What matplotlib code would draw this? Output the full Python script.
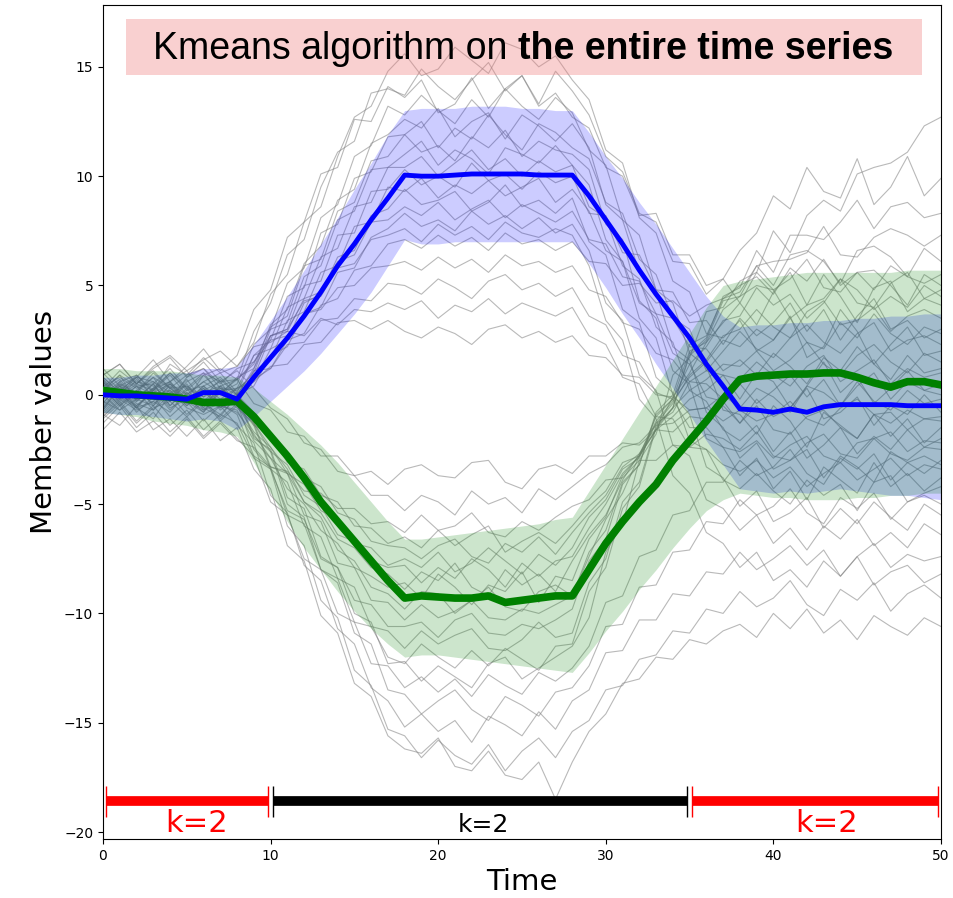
import matplotlib
matplotlib.use("Agg")
import matplotlib.pyplot as plt
from matplotlib.patches import Rectangle
import numpy as np

time = np.arange(51)

# Members of the cluster that rises in the middle section
upper_members = [
    [0.3, 1.1, 0.5, 0.2, 1.4, 0.9, 1.7, 1.0, 1.3, 2.4, 4.6, 5.5, 7.9, 8.6, 10.9, 12.7, 13.2, 14.8, 15.6, 14.6, 14.9, 15.9, 15.3, 14.7, 16.1, 15.8, 15.0, 15.5, 14.4, 13.5, 11.2, 10.6, 8.1, 7.4, 5.2, 4.7, 2.8, 2.6, 3.4, 2.0, 2.5, 3.6, 1.7, 2.2, 3.9, 2.9, 1.4, 2.3, 3.1, 1.8, 2.0],
    [-0.4, 0.5, 0.1, 1.0, 0.3, -0.2, 0.9, 1.2, 0.7, 2.9, 4.2, 6.4, 7.1, 9.5, 11.1, 11.6, 13.8, 14.0, 13.7, 14.9, 14.1, 13.5, 14.4, 15.2, 13.9, 14.6, 13.3, 14.8, 13.9, 12.8, 10.9, 10.2, 8.3, 7.9, 6.1, 6.0, 4.6, 5.3, 6.6, 7.4, 9.1, 8.5, 10.4, 9.3, 9.0, 10.8, 8.7, 9.5, 10.9, 9.1, 9.9],
    [1.2, 0.4, 0.8, 1.6, 0.6, 1.3, 2.1, 1.1, 1.8, 3.9, 4.8, 7.2, 7.9, 10.1, 10.4, 12.6, 12.5, 14.1, 13.6, 14.4, 12.9, 13.3, 14.5, 13.1, 14.0, 14.6, 13.2, 13.8, 12.7, 12.2, 10.4, 10.0, 8.2, 8.3, 6.4, 6.4, 5.0, 5.3, 4.2, 5.6, 4.8, 3.5, 4.1, 5.5, 4.5, 3.3, 4.9, 5.2, 3.8, 4.4, 4.1],
    [-0.7, 0.4, -0.1, 0.2, 0.9, 0.0, 0.6, 0.1, 0.5, 2.3, 3.0, 5.1, 5.8, 8.1, 8.7, 10.9, 11.4, 13.2, 12.8, 13.7, 13.0, 12.4, 13.5, 12.7, 14.0, 13.2, 12.6, 13.6, 12.9, 11.2, 10.5, 8.0, 7.3, 4.8, 4.2, 1.9, 1.3, -0.7, -0.9, -1.8, -0.5, -1.2, -2.4, -0.8, -1.4, -2.0, -0.9, -1.9, -1.1, -2.2, -1.5],
    [0.6, -0.4, 0.2, 0.8, -0.3, 0.5, -0.6, 0.4, 0.0, 1.2, 3.2, 3.9, 6.0, 6.8, 8.9, 9.4, 11.5, 11.9, 12.6, 12.2, 13.1, 11.8, 12.5, 12.9, 11.7, 12.8, 12.3, 11.6, 12.4, 11.3, 8.7, 8.0, 5.6, 4.7, 2.2, 1.6, -0.8, -1.5, -2.9, -2.2, -3.4, -3.0, -2.5, -3.8, -2.8, -3.3, -4.0, -2.6, -3.1, -3.6, -3.0],
    [-0.9, -0.1, -0.6, -1.1, 0.0, -0.3, -0.8, 0.2, 0.3, 1.8, 2.5, 4.5, 4.9, 7.4, 7.8, 9.9, 10.2, 11.8, 11.9, 12.5, 11.3, 12.2, 11.7, 12.8, 11.9, 11.2, 12.4, 12.0, 11.3, 10.8, 8.8, 8.3, 6.2, 5.5, 3.5, 3.0, 1.1, 0.9, -0.2, 1.0, 0.6, -0.6, 0.4, 1.5, 0.1, 0.8, -0.4, 0.3, 1.1, 0.2, 0.5],
    [0.2, 0.9, -0.3, 0.3, 0.6, 1.1, 0.1, 0.4, 0.7, 1.4, 3.1, 3.6, 5.9, 6.2, 8.4, 8.8, 10.7, 10.9, 11.9, 11.1, 11.4, 10.7, 11.8, 11.3, 12.1, 10.9, 11.6, 11.2, 11.0, 10.3, 7.8, 7.1, 4.3, 3.5, 1.1, 0.5, -2.0, -2.4, -3.7, -2.9, -4.3, -3.5, -4.8, -3.3, -3.9, -4.5, -3.1, -4.2, -3.6, -4.4, -3.8],
    [-0.4, 0.6, 0.9, 0.1, -0.3, 0.8, 1.2, 0.3, 0.2, 1.0, 3.0, 3.3, 5.4, 5.9, 8.0, 8.4, 10.3, 10.4, 11.0, 11.6, 10.5, 11.2, 10.8, 10.1, 11.3, 11.0, 10.6, 11.4, 10.5, 9.6, 7.1, 6.1, 3.5, 2.6, 0.0, -0.9, -3.3, -3.8, -5.1, -4.4, -5.8, -5.4, -4.7, -6.1, -5.2, -5.9, -4.9, -5.6, -6.2, -5.0, -5.5],
    [0.7, -0.2, 0.4, -0.5, 0.5, 0.0, 0.6, 1.0, 0.1, 1.8, 2.1, 4.0, 4.4, 6.3, 6.7, 8.6, 8.8, 10.4, 10.4, 10.9, 10.0, 10.6, 11.2, 10.3, 10.8, 10.0, 10.7, 10.2, 10.5, 8.6, 8.1, 5.9, 5.3, 3.1, 2.4, 0.2, -0.3, -1.6, -2.1, -1.4, -2.6, -1.7, -2.9, -2.3, -1.5, -2.7, -1.9, -2.5, -1.6, -2.4, -2.0],
    [-0.6, 0.3, -0.2, 0.5, -0.5, 0.2, 0.4, -0.4, 0.3, 0.8, 2.7, 3.0, 5.0, 5.2, 7.3, 7.4, 9.3, 9.4, 10.3, 9.6, 10.0, 9.5, 10.6, 9.8, 10.1, 9.4, 10.2, 9.7, 10.0, 8.3, 8.2, 6.5, 6.4, 4.8, 4.7, 3.3, 3.4, 2.3, 3.5, 2.7, 3.3, 4.2, 2.9, 3.9, 2.5, 3.6, 4.4, 3.0, 3.4, 2.6, 3.0],
    [0.3, -0.5, 0.1, 0.8, 0.3, -0.4, 0.2, 0.6, -0.5, 1.1, 1.6, 3.4, 3.8, 5.6, 5.9, 7.7, 7.9, 9.5, 9.3, 9.9, 9.0, 9.6, 9.2, 9.8, 9.1, 9.5, 9.9, 8.8, 9.4, 8.4, 6.6, 6.1, 4.2, 3.7, 1.9, 1.4, -0.1, -0.3, -1.3, -0.2, -1.0, -0.6, 0.3, -1.1, -0.8, -0.1, -1.4, -0.5, -0.9, 0.0, -0.8],
    [-0.1, 0.5, -0.4, -0.7, 0.3, 0.4, -0.3, 0.1, -0.1, 0.6, 2.1, 2.5, 4.2, 4.6, 6.3, 6.6, 8.2, 8.5, 9.4, 8.7, 8.9, 9.3, 8.4, 8.8, 9.6, 8.6, 8.9, 8.3, 9.0, 7.0, 6.4, 3.9, 3.3, 0.8, 0.1, -2.1, -2.5, -3.9, -4.3, -3.6, -4.4, -5.0, -3.9, -4.6, -4.1, -5.3, -4.0, -3.7, -4.9, -4.5, -4.2],
    [0.8, 0.1, 0.6, 0.4, -0.3, 0.6, 1.0, 0.0, 0.8, 1.2, 2.7, 2.9, 4.4, 4.7, 6.1, 6.4, 7.9, 8.0, 8.6, 8.2, 8.8, 8.0, 8.5, 8.9, 8.1, 8.7, 8.3, 7.9, 8.4, 7.1, 6.9, 5.4, 5.2, 3.7, 3.5, 2.2, 2.1, 1.1, 1.6, 0.9, 1.9, 1.3, 0.5, 1.7, 1.1, 2.2, 1.4, 0.7, 1.8, 1.0, 1.2],
    [-1.0, -0.2, -0.7, -0.3, -0.8, 0.1, -0.6, -1.0, 0.0, 0.4, 1.8, 2.2, 3.7, 4.0, 5.6, 5.8, 7.2, 7.6, 8.3, 7.7, 8.0, 7.5, 8.4, 7.8, 8.2, 7.6, 8.1, 7.4, 7.8, 6.6, 4.2, 3.4, 0.9, 0.2, -2.3, -2.8, -4.8, -5.2, -6.2, -5.5, -6.8, -6.1, -7.1, -6.0, -6.6, -5.7, -6.9, -6.3, -7.0, -5.9, -6.4],
    [0.2, 0.9, 0.4, 0.5, 1.2, 0.3, 1.0, 0.6, 0.7, 1.5, 2.7, 3.0, 4.3, 4.5, 5.8, 6.0, 7.1, 7.3, 7.6, 7.0, 7.8, 7.3, 7.7, 7.1, 7.9, 7.4, 7.2, 7.6, 7.3, 5.9, 3.4, 2.5, -0.2, -1.1, -3.7, -4.5, -6.3, -6.8, -7.9, -7.2, -8.5, -8.0, -8.8, -7.6, -8.3, -7.4, -8.7, -8.1, -7.8, -8.6, -8.2],
    [0.0, -0.7, 0.2, -0.4, 0.1, -0.1, -0.8, 0.3, -0.3, 0.7, 1.2, 2.5, 2.8, 4.1, 4.4, 5.7, 5.9, 6.9, 7.1, 6.7, 7.3, 6.8, 7.2, 6.6, 7.4, 6.9, 7.1, 6.6, 7.0, 6.1, 6.0, 5.0, 5.1, 4.2, 4.3, 3.6, 4.1, 4.4, 5.0, 5.4, 4.6, 5.8, 5.2, 6.2, 5.0, 5.6, 4.8, 5.9, 5.4, 5.1, 5.5],
    [0.6, -0.1, 0.5, 1.1, 0.3, 0.9, 1.2, 0.5, 1.2, 1.5, 2.5, 2.7, 3.7, 3.9, 4.9, 5.0, 5.8, 5.9, 6.1, 5.7, 6.3, 5.8, 6.2, 5.6, 6.4, 5.9, 6.1, 5.6, 5.9, 4.8, 4.5, 3.3, 3.0, 1.9, 1.6, 0.6, 0.5, -0.2, 0.5, -0.4, 0.2, 0.9, -0.1, 0.7, -0.5, 0.4, 1.0, -0.2, 0.6, 0.2, 0.0],
    [-0.2, 0.4, -0.5, 0.2, 0.6, -0.3, 0.4, 0.8, 0.0, 1.1, 1.2, 2.3, 2.4, 3.4, 3.5, 4.4, 4.3, 5.1, 5.0, 4.6, 5.3, 4.9, 4.4, 5.2, 5.5, 4.8, 5.1, 4.5, 4.9, 3.6, 3.2, 1.8, 1.5, 0.1, -0.2, -1.5, -1.5, -2.4, -2.6, -2.1, -2.9, -2.3, -1.9, -2.8, -3.1, -2.2, -2.0, -2.7, -3.0, -2.4, -2.5],
    [0.9, 1.4, 0.5, 1.3, 1.8, 1.1, 1.6, 2.0, 1.3, 2.2, 2.4, 2.9, 2.7, 3.5, 3.2, 3.9, 3.8, 4.2, 3.9, 4.3, 3.5, 4.1, 3.8, 4.4, 3.7, 4.2, 3.9, 3.6, 4.0, 2.7, 2.3, 0.8, 0.5, -1.0, -1.1, -2.4, -2.5, -3.2, -3.5, -3.0, -3.8, -3.3, -4.2, -3.6, -3.1, -3.9, -3.4, -2.9, -3.7, -3.2, -3.4],
    [-0.8, 0.0, -0.5, 0.1, 0.5, -0.3, 0.4, -0.2, 0.3, 0.6, 1.3, 1.4, 2.3, 2.4, 3.3, 3.4, 3.0, 3.4, 2.9, 2.6, 3.1, 2.8, 2.3, 3.0, 3.2, 2.6, 2.9, 2.4, 2.7, 1.8, 1.7, 0.9, 0.8, 0.0, -0.1, -0.7, -0.6, -1.2, -0.7, -1.2, -0.9, -0.3, -1.1, -1.4, -0.6, -0.2, -0.9, -1.3, -0.7, -1.1, -1.0],
]

# Members of the cluster that falls in the middle section
lower_members = [
    [-0.9, -1.4, -0.5, -1.6, -1.1, -1.9, -1.1, -2.1, -1.5, -3.4, -4.3, -6.9, -7.6, -10.1, -10.9, -13.2, -13.8, -15.6, -16.2, -16.4, -15.7, -17.0, -17.2, -16.3, -17.4, -17.6, -16.8, -18.5, -16.8, -15.4, -14.6, -13.2, -13.0, -12.0, -12.1, -11.2, -11.4, -10.8, -10.5, -11.1, -10.0, -10.7, -9.8, -10.9, -10.3, -11.2, -10.1, -10.6, -11.0, -10.2, -10.6],
    [0.3, -0.5, 0.2, -0.7, 0.0, -0.9, -0.2, -1.1, -0.4, -2.5, -3.4, -6.0, -6.9, -9.4, -10.2, -12.6, -13.3, -15.3, -15.6, -16.6, -15.8, -16.5, -16.9, -16.0, -17.2, -16.3, -15.7, -16.6, -15.4, -14.9, -13.5, -13.3, -12.1, -11.9, -10.8, -10.9, -9.8, -10.0, -9.0, -9.7, -9.3, -8.5, -9.6, -10.1, -8.9, -9.4, -8.6, -9.9, -9.1, -8.7, -9.3],
    [-0.6, 0.2, -0.8, -0.1, -1.0, -0.3, -1.2, -0.5, -1.4, -2.2, -4.6, -5.4, -7.8, -8.5, -10.7, -11.4, -13.4, -14.0, -15.2, -14.6, -15.4, -14.9, -15.9, -14.7, -15.1, -15.6, -14.5, -15.3, -14.0, -13.5, -11.8, -11.7, -10.3, -10.3, -9.1, -9.2, -8.1, -8.2, -7.2, -8.0, -7.5, -6.9, -7.8, -7.1, -8.3, -7.4, -6.8, -7.9, -7.3, -7.6, -7.4],
    [0.7, 0.0, 0.8, -0.1, 0.5, -0.4, 0.3, -0.6, 0.0, -1.9, -2.6, -5.0, -5.6, -8.0, -8.6, -10.9, -11.4, -13.5, -13.7, -14.6, -14.0, -13.5, -14.4, -14.9, -13.8, -14.2, -14.7, -13.6, -13.4, -12.4, -10.6, -10.5, -8.8, -8.7, -7.2, -7.1, -5.8, -5.9, -4.8, -5.5, -5.1, -4.3, -5.4, -5.9, -4.7, -5.2, -4.5, -5.7, -4.9, -4.6, -5.0],
    [-1.3, -0.5, -1.5, -0.8, -1.7, -1.0, -1.9, -1.2, -2.0, -2.8, -4.9, -5.5, -7.5, -8.0, -10.0, -10.4, -12.3, -12.4, -13.4, -12.9, -13.6, -13.0, -13.8, -12.8, -13.3, -13.7, -12.7, -13.1, -12.5, -11.5, -9.5, -9.2, -7.4, -7.1, -5.5, -5.3, -4.0, -4.0, -3.0, -3.7, -3.3, -2.5, -3.6, -4.1, -2.9, -3.4, -2.7, -3.9, -3.1, -2.8, -3.2],
    [0.5, -0.3, 0.4, 0.0, 0.2, -0.5, 0.2, -0.7, -0.1, -2.0, -2.5, -4.7, -5.2, -7.4, -7.9, -10.0, -10.4, -12.3, -12.2, -13.1, -12.4, -12.9, -13.4, -12.3, -12.0, -13.0, -12.5, -12.0, -11.5, -10.2, -7.2, -5.9, -3.0, -1.8, 0.9, 1.7, 3.8, 4.0, 5.2, 5.6, 7.5, 6.5, 8.2, 8.9, 8.4, 10.1, 10.4, 10.6, 11.1, 12.3, 12.7],
    [-0.2, 0.4, -0.6, 0.3, -0.6, -0.2, -0.7, -0.4, -0.9, -2.8, -3.3, -5.5, -5.9, -8.0, -8.4, -10.4, -10.6, -12.0, -12.3, -11.4, -12.0, -12.5, -11.7, -12.4, -11.6, -12.1, -12.6, -11.5, -11.4, -9.0, -7.9, -5.2, -4.2, -1.5, -0.6, 1.9, 2.6, 4.5, 4.9, 6.6, 5.6, 7.3, 7.3, 7.1, 7.9, 8.9, 7.6, 8.6, 8.8, 8.1, 8.3],
    [1.0, 0.2, 0.8, 0.6, -0.1, 0.7, -0.3, 0.4, -0.5, -1.4, -3.4, -4.0, -6.0, -6.5, -8.4, -8.8, -10.6, -10.8, -11.6, -10.8, -11.4, -11.0, -10.7, -11.6, -11.7, -11.2, -10.4, -11.1, -10.9, -8.6, -7.5, -4.9, -4.0, -1.4, -0.6, 1.8, 2.5, 4.3, 4.5, 5.9, 6.1, 6.2, 6.5, 7.7, 6.4, 6.3, 7.2, 7.6, 7.3, 6.8, 7.3],
    [-1.0, -0.3, -1.2, -0.5, -1.4, -0.7, -1.6, -0.9, -1.3, -2.9, -3.4, -5.3, -5.7, -7.5, -7.9, -9.4, -9.6, -10.6, -10.6, -10.4, -11.1, -10.3, -10.0, -10.9, -11.0, -10.5, -10.7, -10.3, -9.8, -7.6, -6.6, -4.1, -3.2, -0.8, 0.0, 2.3, 2.7, 4.4, 4.7, 5.9, 5.0, 6.4, 6.6, 6.1, 5.1, 6.6, 6.8, 6.3, 5.4, 6.7, 6.1],
    [0.2, 0.7, -0.2, 0.5, -0.5, 0.3, -0.7, 0.1, -0.6, -1.3, -3.3, -3.6, -5.5, -5.8, -7.7, -7.9, -9.4, -9.5, -10.3, -9.6, -10.2, -9.9, -9.4, -10.2, -10.3, -9.8, -10.0, -9.6, -9.2, -7.2, -6.2, -4.0, -3.2, -0.9, -0.2, 2.0, 2.4, 3.9, 4.5, 5.0, 4.8, 5.3, 6.2, 4.9, 4.7, 5.6, 5.7, 5.0, 4.1, 5.5, 5.0],
    [-0.7, 0.1, -0.6, -0.3, 0.4, -0.5, 0.2, -0.6, 0.1, -1.3, -2.4, -3.4, -4.9, -5.6, -7.1, -7.6, -8.8, -9.1, -9.8, -9.0, -9.1, -10.0, -9.4, -8.8, -9.7, -9.9, -9.0, -8.7, -9.2, -7.4, -5.7, -4.5, -2.8, -1.6, -0.1, 1.0, 2.4, 3.3, 4.2, 3.2, 4.7, 5.6, 4.1, 4.4, 5.3, 4.2, 4.0, 5.1, 5.6, 4.4, 4.8],
    [0.6, -0.2, 0.7, -0.1, 0.6, -0.2, 0.3, -0.5, -0.7, -2.1, -2.9, -4.3, -5.0, -6.2, -6.8, -7.9, -8.3, -8.8, -8.6, -9.3, -8.2, -8.8, -9.6, -8.7, -9.0, -8.1, -9.5, -8.3, -8.5, -6.6, -5.6, -3.7, -2.8, -1.0, -0.2, 1.4, 2.2, 3.4, 3.6, 4.9, 4.1, 4.6, 3.5, 4.2, 5.3, 4.8, 3.9, 4.5, 4.0, 5.0, 4.5],
    [-0.3, -0.7, -0.2, -0.5, 0.2, -0.6, -0.9, -0.5, -0.8, -1.8, -2.9, -3.6, -4.9, -5.4, -6.6, -7.0, -7.9, -8.2, -8.9, -8.1, -8.5, -7.7, -8.8, -9.2, -8.0, -8.7, -8.2, -9.0, -7.6, -6.4, -5.5, -3.9, -2.7, -1.3, -0.4, 0.9, 1.6, 2.7, 3.0, 3.9, 3.1, 2.6, 3.8, 4.3, 3.2, 3.4, 4.0, 2.9, 3.6, 3.9, 3.5],
    [0.4, 0.8, 0.3, 0.6, 0.1, 0.4, -0.1, 0.3, -0.2, -1.3, -2.6, -3.2, -4.6, -5.1, -6.4, -6.7, -7.6, -7.9, -7.8, -8.6, -7.9, -8.4, -7.5, -8.0, -8.8, -7.7, -8.3, -7.6, -7.4, -6.1, -5.0, -3.6, -2.8, -1.2, -0.3, 0.8, 1.5, 2.5, 2.2, 3.0, 2.5, 3.5, 2.4, 2.1, 3.3, 2.6, 3.7, 2.8, 2.3, 3.1, 2.8],
    [-1.1, -0.4, -1.3, -0.6, -0.3, -1.0, -0.3, -1.2, -0.5, -1.7, -2.4, -3.6, -4.1, -5.3, -5.7, -6.8, -7.0, -7.8, -7.5, -7.9, -7.2, -8.1, -7.7, -7.0, -7.6, -8.2, -7.3, -7.8, -7.0, -5.6, -4.8, -3.4, -2.9, -1.3, -0.8, 0.6, 1.1, 2.0, 2.9, 2.1, 1.7, 2.6, 3.2, 2.4, 1.9, 2.8, 3.3, 2.0, 2.5, 2.7, 2.3],
    [0.8, 0.1, 0.9, 0.2, 1.0, 0.3, -0.1, 0.7, 0.0, -0.8, -2.1, -2.6, -3.8, -4.2, -5.4, -5.7, -6.7, -6.9, -7.0, -7.5, -6.9, -6.6, -7.4, -7.7, -6.8, -7.2, -6.5, -7.3, -6.3, -5.4, -4.6, -3.3, -2.7, -1.6, -0.6, 0.2, 0.7, 1.4, 1.3, 2.0, 1.1, 1.6, 2.4, 1.4, 0.9, 1.8, 2.3, 1.5, 1.0, 1.9, 1.5],
    [-0.5, 0.3, -0.6, 0.2, -0.7, 0.1, -0.4, -0.9, -0.1, -1.4, -1.8, -3.1, -3.4, -4.6, -4.9, -6.0, -6.1, -6.8, -6.5, -7.0, -6.2, -6.9, -6.4, -6.0, -7.2, -6.7, -6.3, -6.8, -6.0, -5.1, -4.4, -3.1, -2.8, -1.6, -1.0, -0.2, 0.2, 0.9, 0.7, 1.5, 0.9, 0.4, 1.3, 1.8, 0.6, 1.1, 1.6, 0.5, 1.2, 0.8, 1.0],
    [0.9, 1.4, 0.5, 1.2, 1.7, 0.8, 1.5, 0.6, 1.1, 0.3, -0.6, -1.1, -2.2, -2.5, -3.5, -3.7, -4.6, -4.6, -5.3, -4.6, -4.9, -5.5, -4.4, -5.0, -4.7, -5.4, -4.3, -4.8, -4.2, -3.6, -3.2, -2.4, -2.2, -1.4, -1.3, -0.7, -0.6, 0.0, -0.6, 0.3, -0.1, -0.8, 0.4, 0.1, -0.5, 0.6, -0.3, -0.7, 0.2, -0.4, -0.2],
    [0.0, 0.6, -0.3, 0.3, 1.0, 0.2, 0.9, 0.1, 0.7, -0.4, -0.7, -1.7, -1.9, -2.8, -2.8, -3.7, -3.5, -4.1, -3.4, -3.2, -3.7, -3.8, -3.1, -3.0, -4.0, -4.3, -3.4, -3.2, -3.6, -2.8, -2.8, -2.2, -2.3, -1.6, -1.7, -1.0, -1.1, -0.5, -1.3, -0.5, -1.6, -1.8, -1.0, -0.7, -1.5, -2.0, -0.9, -0.8, -1.6, -1.1, -1.2],
    [-1.6, -0.8, -1.7, -1.2, -1.9, -1.1, -2.0, -1.3, -2.1, -2.4, -3.3, -3.5, -4.4, -4.5, -5.2, -5.2, -5.9, -5.8, -6.3, -5.5, -6.2, -6.0, -5.4, -6.3, -6.5, -5.8, -6.2, -5.6, -5.1, -4.8, -3.9, -3.8, -3.0, -3.0, -2.3, -2.4, -1.8, -2.0, -2.5, -1.7, -2.8, -3.0, -2.2, -1.8, -2.7, -2.9, -2.0, -1.7, -2.6, -2.1, -2.2],
]

# Cluster centres and their one-standard-deviation envelopes
blue_mean = [0.0, -0.05, -0.05, -0.1, -0.15, -0.2, 0.1, 0.1, -0.2,
             0.8, 1.7, 2.6, 3.6, 4.7, 5.9, 6.9, 8.0, 9.0,
             10.05, 10.0, 10.0, 10.05, 10.1, 10.1, 10.1, 10.1, 10.05, 10.05, 10.05,
             9.1, 8.0, 6.9, 5.7, 4.6, 3.6, 2.6, 1.4, 0.4,
             -0.65, -0.7, -0.8, -0.65, -0.8, -0.55, -0.45, -0.45, -0.45, -0.45, -0.5, -0.5, -0.5]
blue_upper = [0.8, 0.8, 0.9, 0.9, 1.0, 1.0, 1.2, 1.2, 1.3,
              2.3, 3.4, 4.5, 5.7, 6.9, 8.1, 9.4, 10.6, 11.9,
              13.0, 13.1, 13.1, 13.1, 13.2, 13.2, 13.2, 13.1, 13.1, 13.0, 13.0,
              12.0, 10.9, 9.9, 8.8, 7.8, 6.7, 5.6, 4.5, 3.6,
              3.1, 3.2, 3.2, 3.3, 3.3, 3.4, 3.4, 3.5, 3.5, 3.6, 3.6, 3.7, 3.7]
blue_lower = [-0.8, -0.9, -0.9, -1.0, -1.1, -1.2, -1.1, -1.2, -1.6,
              -1.0, -0.3, 0.4, 1.1, 1.9, 2.8, 3.7, 4.7, 5.9,
              7.1, 6.9, 6.9, 7.0, 7.0, 7.0, 7.0, 7.0, 7.0, 7.0, 7.0,
              6.0, 4.9, 3.7, 2.6, 1.4, 0.3, -0.9, -2.1, -3.2,
              -4.3, -4.4, -4.5, -4.4, -4.5, -4.4, -4.3, -4.4, -4.5, -4.6, -4.6, -4.7, -4.8]

green_mean = [0.2, 0.1, 0.0, -0.05, -0.1, -0.2, -0.35, -0.35, -0.3,
              -1.0, -1.9, -2.8, -3.8, -4.9, -5.8, -6.7, -7.6, -8.5,
              -9.3, -9.2, -9.25, -9.3, -9.3, -9.2, -9.5, -9.4, -9.3, -9.2, -9.2,
              -8.0, -6.8, -5.8, -4.9, -4.1, -3.0, -2.1, -1.2, -0.2,
              0.7, 0.85, 0.9, 0.95, 0.95, 1.0, 1.0, 0.8, 0.55, 0.35, 0.6, 0.6, 0.45]
green_upper = [1.2, 1.2, 1.1, 1.1, 1.1, 1.0, 0.9, 0.9, 0.8,
               0.3, -0.3, -0.9, -1.6, -2.3, -3.1, -4.0, -4.9, -5.8,
               -6.6, -6.6, -6.5, -6.4, -6.3, -6.2, -6.1, -6.0, -5.9, -5.7, -5.6,
               -4.4, -3.2, -2.0, -0.8, 0.4, 1.6, 2.8, 4.0, 5.0,
               5.2, 5.3, 5.4, 5.5, 5.6, 5.6, 5.6, 5.6, 5.6, 5.6, 5.7, 5.7, 5.7]
green_lower = [-0.8, -0.9, -1.0, -1.2, -1.3, -1.4, -1.6, -1.7, -1.9,
               -3.1, -4.5, -5.8, -7.0, -8.0, -9.0, -9.9, -10.7, -11.4,
               -12.0, -11.9, -11.9, -12.0, -12.1, -12.2, -12.3, -12.4, -12.5, -12.6, -12.7,
               -11.8, -10.8, -9.9, -8.9, -8.0, -7.0, -6.1, -5.3, -4.8,
               -4.5, -4.6, -4.7, -4.7, -4.8, -4.8, -4.8, -4.7, -4.7, -4.6, -4.6, -4.5, -4.5]

# Time segments with the number of clusters used in each
segment_edges = [0, 10, 35, 50]
segment_colors = ["red", "black", "red"]
segment_labels = ["k=2", "k=2", "k=2"]
segment_label_x = [5.6, 22.7, 43.2]
segment_label_size = [22, 18, 22]

fig = plt.figure(figsize=(9.54, 8.98), dpi=100)
ax = fig.add_axes([103 / 954, 59 / 898, 838 / 954, 834 / 898])

for series in upper_members + lower_members:
    ax.plot(time, series, color="gray", lw=0.8, alpha=0.55, zorder=1)

ax.fill_between(time, blue_lower, blue_upper, color="blue", alpha=0.2, lw=0, zorder=2)
ax.fill_between(time, green_lower, green_upper, color="green", alpha=0.2, lw=0, zorder=2)
ax.plot(time, green_mean, color="green", lw=5.5, zorder=3)
ax.plot(time, blue_mean, color="blue", lw=3.5, zorder=4)

# Segment bars along the bottom
bar_y = -18.6
inset = 0.15
cap = 0.7
for i, color in enumerate(segment_colors):
    x0 = segment_edges[i] + inset
    x1 = segment_edges[i + 1] - inset
    ax.plot([x0, x1], [bar_y, bar_y], color=color, lw=7, solid_capstyle="butt", zorder=5)
    ax.vlines([x0, x1], bar_y - cap, bar_y + cap, color=color, lw=1.0, zorder=5)
    ax.text(segment_label_x[i], -20.0, segment_labels[i], color=color,
            fontsize=segment_label_size[i], ha="center", va="baseline", zorder=6)

ax.set_xlim(0, 50)
ax.set_ylim(-20.32, 17.83)
ax.set_xticks([0, 10, 20, 30, 40, 50])
ax.set_yticks([-20, -15, -10, -5, 0, 5, 10, 15])
ax.tick_params(labelsize=10)
ax.set_xlabel("Time", fontsize=21)
ax.set_ylabel("Member values", fontsize=21)

# Banner describing the clustering setup
ax.add_patch(Rectangle((126 / 954, 1 - 75 / 898), 796 / 954, 56 / 898,
                       transform=fig.transFigure, facecolor="lightcoral",
                       alpha=0.37, edgecolor="none", zorder=7))
t1 = fig.text(153 / 954, 1 - 59 / 898, "Kmeans algorithm on ", fontsize=27,
              family="Liberation Sans", va="baseline", zorder=8)
ax.annotate("the entire time series", xy=(1, 0), xycoords=t1, fontsize=27,
            family="Liberation Sans", fontweight="bold", va="bottom", ha="left",
            annotation_clip=False, zorder=8)

fig.savefig("out.png", dpi=100)
